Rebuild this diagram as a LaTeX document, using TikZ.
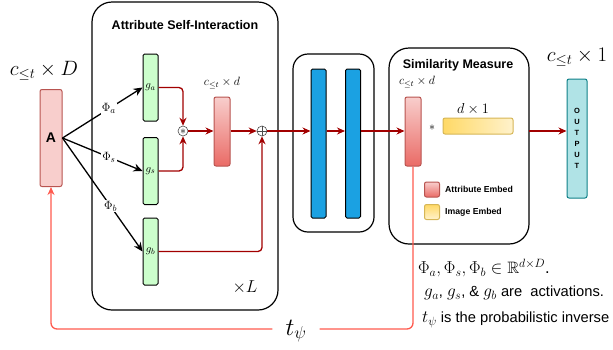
\documentclass[tikz,border=0pt]{standalone}
\usepackage{amssymb}
\usepackage{amsmath}
\usepackage{fontspec}
\setmainfont{Liberation Sans}
\usepackage{tikz}
\usetikzlibrary{arrows.meta,calc,positioning,shapes}
\definecolor{attrred}{HTML}{B85450}
\definecolor{attrlight}{HTML}{F8CECC}
\definecolor{attrdark}{HTML}{EA6B66}
\definecolor{imgyel}{HTML}{FFD966}
\definecolor{imglight}{HTML}{FFF2CC}
\definecolor{imgdraw}{HTML}{D6B656}
\definecolor{flowred}{HTML}{A20000}
\definecolor{backred}{HTML}{FF5A4E}
\definecolor{layerblue}{HTML}{1BA1E2}
\definecolor{outfill}{HTML}{B0E3E6}
\definecolor{outdraw}{HTML}{0E8088}
\newcommand{\fsz}[1]{\fontsize{#1}{#1}\selectfont}
\newcommand{\notemath}[1]{{\fsz{17}$#1$}}
\tikzset{%
	block/.style    = {draw, line width=1.2pt, rounded corners=20pt},
	gbox/.style     = {draw, line width=1pt, rounded corners=1.5pt, fill=green!20, minimum width=15pt, minimum height=67pt, inner sep=0pt, font=\fsz{11}},
	embbox/.style   = {draw=attrred, line width=1pt, rounded corners=2pt, top color=attrlight, bottom color=attrdark, minimum width=16pt, minimum height=69pt, inner sep=0pt},
	layer/.style    = {draw, line width=1pt, rounded corners=1.5pt, fill=layerblue, minimum width=15pt, minimum height=149pt, inner sep=0pt},
	rarrow/.style   = {draw=flowred, line width=1.3pt, -{Stealth[length=8pt,width=7pt]}, rounded corners=4pt},
	karrow/.style   = {line width=1.3pt, -{Stealth[length=9pt,width=8pt]}},
	fbline/.style   = {draw=backred, line width=1.3pt, rounded corners=6pt},
	title/.style    = {font=\bfseries\fsz{12.5}},
	philabel/.style = {fill=white, inner sep=1pt, font=\fsz{12.5}},
	keytext/.style  = {anchor=west, font=\bfseries\fsz{8.7}, inner sep=0pt},
	note/.style     = {anchor=west, inner sep=0pt, font=\fsz{14.7}},
	opnode/.style   = {circle, draw=black!70, line width=0.6pt, minimum size=10pt, inner sep=0pt},
}

\begin{document}
\begin{tikzpicture}[x=1pt,y=-1pt]
	\useasboundingbox (0,0) rectangle (613,349);
	% containers
	\draw[block] (92,2) rectangle (278,310);
	\node[title] (asi) at (185,25) {Attribute Self-Interaction};
	\node[font=\fsz{19}] (times-l) at (245,287) {$\times L$};
	\draw[block, rounded corners=15pt] (293,54) rectangle (374,232);
	\draw[block] (389,48) rectangle (529,244);
	\node[title] (sim) at (458,65) {Similarity Measure};

	% input
	\node[draw=attrred, line width=1pt, rounded corners=2pt, fill=attrlight, minimum width=22pt, minimum height=97pt, inner sep=0pt, font=\bfseries\fsz{14}] (A) at (51,138) {A};
	\node[font=\fsz{21.5}] (in-dim) at (44,71) {$c_{\leq t}\times D$};

	% activations
	\node[gbox] (ga) at (150.5,87.5) {$g_a$};
	\node[gbox] (gs) at (150.5,171) {$g_s$};
	\node[gbox] (gb) at (150.5,251.5) {$g_b$};
	\draw[karrow] (A.east) -- node[philabel, pos=0.58] {$\Phi_a$} (ga.west);
	\draw[karrow] (A.east) -- node[philabel, pos=0.58] {$\Phi_s$} (gs.west);
	\draw[karrow] (A.east) -- node[philabel, pos=0.6] {$\Phi_b$} (gb.west);

	\node[opnode] (mul) at (183,131) {};
	\node[font=\fsz{12}, inner sep=0pt] at ([yshift=-1pt]mul) {$*$};
	\node[opnode] (add) at (262,131) {};
	\draw[black!70, line width=0.6pt] (add.north) -- (add.south) (add.west) -- (add.east);
	\node[embbox] (emb1) at (222,131.5) {};
	\node[font=\fsz{11.5}] (emb1-dim) at (222,83) {$c_{\leq t}\times d$};
	\draw[rarrow] (ga.east) -| (mul.north);
	\draw[rarrow] (gs.east) -| (mul.south);
	\draw[rarrow] (mul.east) -- (emb1.west |- mul);
	\draw[rarrow] (emb1.east |- add) -- (add.west);
	\draw[rarrow] (gb.east) -| (add.south);

	% layers
	\node[layer] (l1) at (318.5,143.5) {};
	\node[layer] (l2) at (353,143.5) {};
	\draw[rarrow] (add.east) -- (add.east -| l1.west);
	\draw[rarrow] (l1.east |- add) -- (l2.west |- add);

	% similarity
	\node[embbox] (emb2) at (413,131.5) {};
	\node[font=\fsz{11.5}] (emb2-dim) at (417,82) {$c_{\leq t}\times d$};
	\draw[rarrow] (l2.east |- add) -- (emb2.west |- add);
	\node[font=\fsz{13}] (star) at (432,128) {$*$};
	\node[draw=imgdraw, line width=1pt, rounded corners=2pt, left color=imgyel, right color=imglight, minimum width=70pt, minimum height=16pt, inner sep=0pt] (img) at (478,126) {};
	\node[font=\fsz{14}] (img-dim) at (473,109) {$d\times 1$};
	\node[draw=attrred, line width=1pt, rounded corners=2pt, top color=attrlight, bottom color=attrdark, minimum size=15pt, inner sep=0pt] (key-a) at (432,189.5) {};
	\node[keytext] (key-a-text) at (445,189.5) {Attribute Embed};
	\node[draw=imgdraw, line width=1pt, rounded corners=2pt, top color=imgyel, bottom color=imglight, minimum size=15pt, inner sep=0pt] (key-i) at (432,212) {};
	\node[keytext] (key-i-text) at (445,212) {Image Embed};

	% output
	\node[draw=outdraw, line width=1pt, rounded corners=2pt, fill=outfill, minimum width=20pt, minimum height=119pt, inner sep=0pt, align=center, font=\bfseries\fontsize{7.5}{11}\selectfont] (out) at (577,138.5) {O\\U\\T\\P\\U\\T};
	\node[font=\fsz{22}] (out-dim) at (577,57) {$c_{\leq t}\times 1$};
	\coordinate (sim-exit) at (529,131);
	\draw[rarrow] (sim-exit) -- (out.west |- sim-exit);

	% feedback
	\node[font=\fsz{24}, inner xsep=13pt, inner ysep=0pt] (tpsi) at (296,331) {$t_\psi$};
	\draw[fbline] (emb2.south) |- (tpsi.east |- 0,329);
	\draw[fbline, -{Stealth[length=8pt,width=7pt]}] (tpsi.west |- 0,329) -| (A.south);

	% notes
	\node[note, font=\fsz{16.5}] (note1) at (418,268) {$\Phi_a,\Phi_s,\Phi_b\in\mathbb{R}^{d\times D}$.};
	\node[note] (note2) at (424,293) {\notemath{g_a}, \notemath{g_s}, \& \notemath{g_b} are\ \ activations.};
	\node[note] (note3) at (422,320) {\notemath{t_\psi} is the probabilistic inverse};
\end{tikzpicture}
\end{document}
